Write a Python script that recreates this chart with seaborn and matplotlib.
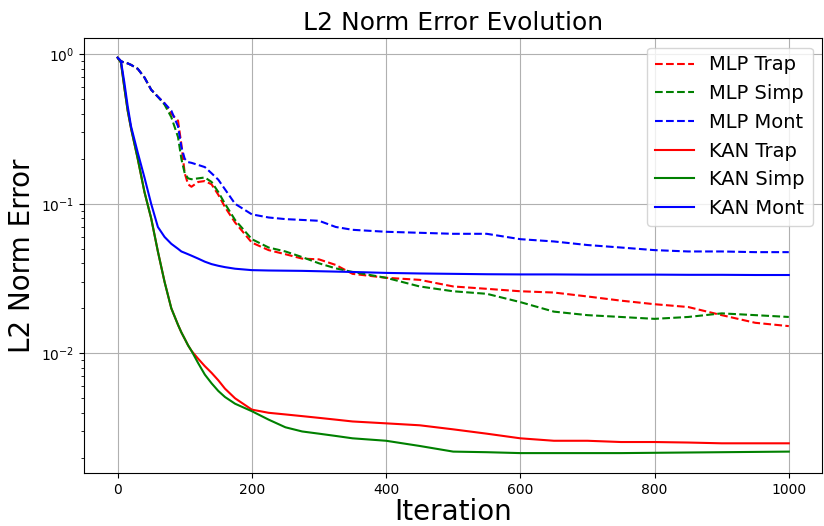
import numpy as np
import pandas as pd
import matplotlib
matplotlib.use("Agg")
import matplotlib.pyplot as plt
import seaborn as sns

# === DATA ===
iterations = [0, 5, 10, 15, 20, 30, 40, 50, 60, 70, 80, 90, 95, 100, 105, 110,
              120, 130, 140, 150, 160, 175, 200, 225, 250, 275, 300, 325, 350,
              400, 450, 500, 550, 600, 650, 700, 750, 800, 850, 900, 950, 1000]

mlp_trap = [0.95, 0.9, 0.88, 0.87, 0.85, 0.8, 0.7, 0.58, 0.52, 0.47, 0.4, 0.36, 0.25, 0.16,
            0.135, 0.13, 0.14, 0.142, 0.135, 0.115, 0.095, 0.075, 0.055, 0.049, 0.046,
            0.043, 0.0425, 0.039, 0.034, 0.032, 0.031, 0.028, 0.027, 0.026, 0.0255,
            0.024, 0.0225, 0.0213, 0.0204, 0.018, 0.016, 0.0152]
mlp_simp = [0.95, 0.9, 0.88, 0.87, 0.85, 0.8, 0.7, 0.58, 0.52, 0.46, 0.38, 0.28, 0.2, 0.16,
            0.148, 0.146, 0.148, 0.15, 0.14, 0.12, 0.1, 0.078, 0.058, 0.051, 0.048,
            0.044, 0.04, 0.037, 0.035, 0.032, 0.028, 0.026, 0.025, 0.022, 0.019,
            0.018, 0.0175, 0.017, 0.0175, 0.0185, 0.018, 0.0175]
mlp_mont = [0.95, 0.9, 0.88, 0.87, 0.85, 0.8, 0.7, 0.58, 0.52, 0.47, 0.42, 0.33, 0.24, 0.2,
            0.19, 0.188, 0.182, 0.176, 0.16, 0.145, 0.125, 0.1, 0.085, 0.081, 0.079,
            0.078, 0.077, 0.07, 0.067, 0.065, 0.064, 0.063, 0.063, 0.058, 0.056,
            0.053, 0.051, 0.049, 0.048, 0.048, 0.0475, 0.0475]
kan_trap = [0.95, 0.88, 0.6, 0.42, 0.32, 0.2, 0.12, 0.08, 0.048, 0.03, 0.02, 0.0155, 0.0138,
            0.0125, 0.0113, 0.0104, 0.0092, 0.0082, 0.0074, 0.0066, 0.0058, 0.005, 0.0042,
            0.004, 0.0039, 0.0038, 0.0037, 0.0036, 0.0035, 0.0034, 0.0033, 0.0031, 0.0029,
            0.0027, 0.0026, 0.0026, 0.00255, 0.00255, 0.00253, 0.0025, 0.0025, 0.0025]
kan_simp = [0.95, 0.88, 0.6, 0.42, 0.32, 0.2, 0.12, 0.08, 0.048, 0.03, 0.02, 0.0155, 0.0138,
            0.0125, 0.0113, 0.0104, 0.0086, 0.0072, 0.0063, 0.0056, 0.0051, 0.0046, 0.0041,
            0.0036, 0.0032, 0.003, 0.0029, 0.0028, 0.0027, 0.0026, 0.0024, 0.0022, 0.00218,
            0.00215, 0.00215, 0.00215, 0.00215, 0.00216, 0.00217, 0.00218, 0.00219, 0.0022]
kan_mont = [0.95, 0.9, 0.65, 0.45, 0.33, 0.22, 0.15, 0.1, 0.07, 0.06, 0.054, 0.05, 0.048,
            0.047, 0.046, 0.045, 0.043, 0.041, 0.0395, 0.0385, 0.0377, 0.0368, 0.036,
            0.0358, 0.0357, 0.0356, 0.0354, 0.0352, 0.035, 0.0345, 0.0342, 0.034, 0.0338,
            0.0337, 0.0337, 0.0336, 0.0336, 0.0336, 0.0335, 0.0335, 0.0334, 0.0334]

series = [
    ("MLP Trap", mlp_trap, "red", "--"),
    ("MLP Simp", mlp_simp, "green", "--"),
    ("MLP Mont", mlp_mont, "blue", "--"),
    ("KAN Trap", kan_trap, "red", "-"),
    ("KAN Simp", kan_simp, "green", "-"),
    ("KAN Mont", kan_mont, "blue", "-"),
]

# === PLOT ===
fig = plt.figure(figsize=(8.24, 5.26), dpi=100)
ax = fig.add_axes([0.102, 0.101, 0.896, 0.827])

for name, vals, col, ls in series:
    df = pd.DataFrame({"Iteration": iterations, "Error": vals})
    sns.lineplot(data=df, x="Iteration", y="Error", color=col, linestyle=ls,
                 linewidth=1.5, label=name, ax=ax)

ax.set_yscale("log")
ax.set_xlim(-50, 1050)
ax.set_title("L2 Norm Error Evolution", fontsize=18)
ax.set_xlabel("Iteration", fontsize=20, labelpad=1)
ax.set_ylabel("L2 Norm Error", fontsize=20)
ax.grid(True, which="major", color="#b0b0b0", linewidth=0.8)
ax.legend(loc="upper right", fontsize=14)

fig.savefig("out.png", dpi=100)
